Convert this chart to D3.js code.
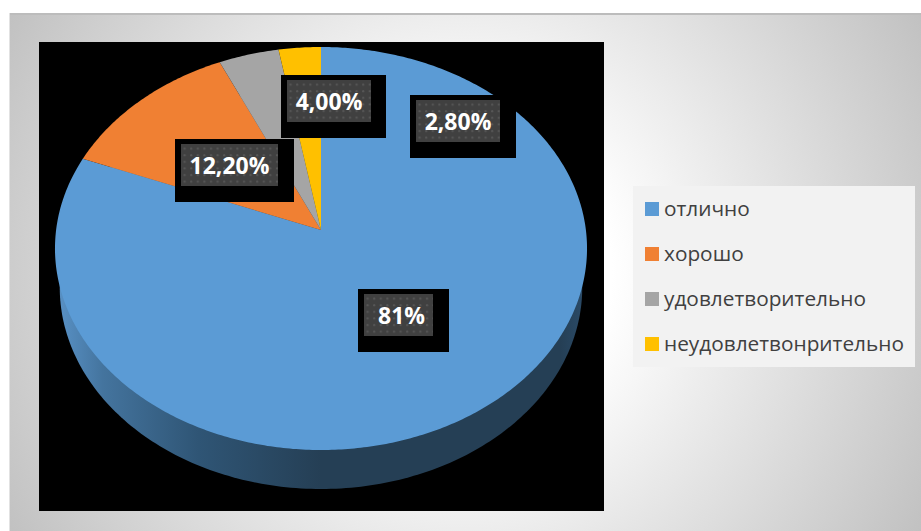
<!DOCTYPE html>
<html><head><meta charset="utf-8">
<script src="https://cdnjs.cloudflare.com/ajax/libs/d3/7.8.5/d3.min.js"></script>
<style>html,body{margin:0;padding:0;background:#fff;overflow:hidden}svg{display:block}</style>
</head><body>
<script>
const categories = ["отлично", "хорошо", "удовлетворительно", "неудовлетвонрительно"];
const values = [81, 12.2, 4, 2.8];
const sliceLabels = ["81%", "12,20%", "4,00%", "2,80%"];
const colors = ["#5b9bd5", "#f08033", "#a5a5a5", "#ffc000"];

const W = 921, H = 531;
const svg = d3.select("body").append("svg").attr("width", W).attr("height", H);
const defs = svg.append("defs");

const bg = defs.append("radialGradient").attr("id", "bg").attr("gradientUnits", "userSpaceOnUse")
  .attr("cx", 465).attr("cy", 272).attr("r", 525);
bg.append("stop").attr("offset", 0.28).attr("stop-color", "#ffffff");
bg.append("stop").attr("offset", 1).attr("stop-color", "#c1c1c1");

const sideG = defs.append("linearGradient").attr("id", "side").attr("gradientUnits", "userSpaceOnUse")
  .attr("x1", 55).attr("x2", 587).attr("y1", 0).attr("y2", 0);
[[0, "#5a93c8"], [0.09, "#44749e"], [0.27, "#2f5575"], [0.5, "#253f55"], [0.95, "#253f55"], [1, "#2b4c6a"]]
  .forEach(s => sideG.append("stop").attr("offset", s[0]).attr("stop-color", s[1]));

const pat = defs.append("pattern").attr("id", "dots").attr("patternUnits", "userSpaceOnUse")
  .attr("width", 13.2).attr("height", 13.2);
pat.append("rect").attr("width", 13.2).attr("height", 13.2).attr("fill", "#404040");
[[3, 3], [9.6, 3], [3, 9.6], [9.6, 9.6]].forEach(p =>
  pat.append("circle").attr("cx", p[0]).attr("cy", p[1]).attr("r", 1.1).attr("fill", "#565656"));

// panel
svg.append("rect").attr("x", 9).attr("y", 13).attr("width", W - 9).attr("height", H - 13).attr("fill", "url(#bg)");
svg.append("rect").attr("x", 9).attr("y", 13).attr("width", W - 9).attr("height", 2).attr("fill", "#bcbcbc");
svg.append("rect").attr("x", 9).attr("y", 13).attr("width", 1).attr("height", H - 13).attr("fill", "#e2e2e2");

// plot area
svg.append("rect").attr("x", 39).attr("y", 42).attr("width", 565).attr("height", 469).attr("fill", "#000");

// perspective projection of the pie disc
const apexX = 321, apexY = 230, k = -0.0918, a = 264.9, b = 199.8, depth = 39;
const project = (t, sx = 1, dy = 0) => {
  const u = Math.sin(t), v = -Math.cos(t), d = 1 + k * v;
  return [apexX + sx * a * u / d, apexY + dy + b * v / d];
};
const line = d3.line();
const pie = d3.pie().sort(null).startAngle(0).endAngle(2 * Math.PI);
const arcs = pie(values);

// extruded side
svg.append("path")
  .attr("d", line(d3.range(0, 361, 1).map(deg => project(deg * Math.PI / 180, 0.982, depth))) + "Z")
  .attr("fill", "url(#side)");

// top face
svg.append("g").selectAll("path").data(arcs).join("path")
  .attr("d", d => {
    const n = Math.max(4, Math.ceil((d.endAngle - d.startAngle) * 90));
    const pts = d3.range(n + 1).map(i => project(d.startAngle + (d.endAngle - d.startAngle) * i / n));
    return line([[apexX, apexY], ...pts]) + "Z";
  })
  .attr("fill", (d, i) => colors[i]);

// data label boxes
const labelBoxes = [
  { x: 358, y: 289, w: 91, iw: 69, dx: 3 },
  { x: 175, y: 139, w: 119, iw: 97, dx: 0 },
  { x: 281, y: 75, w: 105, iw: 84, dx: 0 },
  { x: 410, y: 95, w: 106, iw: 84, dx: 0 }
];
const lab = svg.append("g").selectAll("g").data(sliceLabels).join("g")
  .attr("transform", (d, i) => `translate(${labelBoxes[i].x},${labelBoxes[i].y})`);
lab.append("rect").attr("width", (d, i) => labelBoxes[i].w).attr("height", 63).attr("fill", "#000");
lab.append("rect").attr("x", 6).attr("y", 5).attr("width", (d, i) => labelBoxes[i].iw).attr("height", 42).attr("fill", "url(#dots)");
lab.append("text").text(d => d)
  .attr("x", (d, i) => 6 + labelBoxes[i].iw / 2 + labelBoxes[i].dx).attr("y", 35)
  .attr("text-anchor", "middle")
  .attr("font-family", "'Open Sans', sans-serif").attr("font-weight", 700).attr("font-size", 23)
  .attr("fill", "#fff");

// legend
svg.append("rect").attr("x", 633).attr("y", 186).attr("width", 282).attr("height", 181).attr("fill", "#f2f2f2");
const y = d3.scalePoint().domain(categories).range([209, 344]);
const leg = svg.append("g").selectAll("g").data(categories).join("g")
  .attr("transform", d => `translate(645,${y(d)})`);
leg.append("rect").attr("y", -7).attr("width", 14).attr("height", 14).attr("fill", (d, i) => colors[i]);
leg.append("text").text(d => d).attr("x", 19).attr("y", 7)
  .attr("font-family", "'Open Sans', sans-serif").attr("font-size", 20.8).attr("fill", "#404040");
</script>
</body></html>
